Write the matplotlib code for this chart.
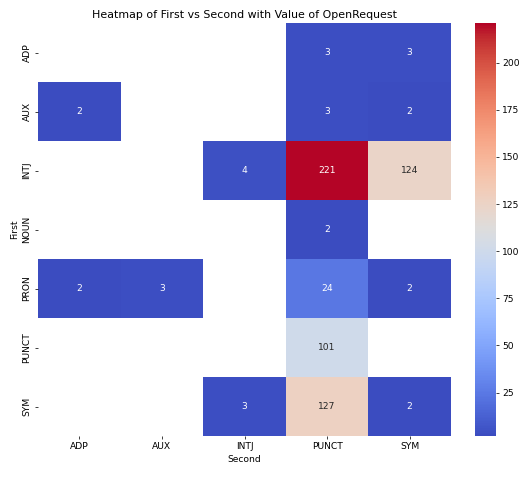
import numpy as np
import pandas as pd
import matplotlib
matplotlib.use("Agg")
import matplotlib.pyplot as plt
import seaborn as sns

rows = ["ADP", "AUX", "INTJ", "NOUN", "PRON", "PUNCT", "SYM"]
cols = ["ADP", "AUX", "INTJ", "PUNCT", "SYM"]
nan = np.nan
row_ADP = [nan, nan, nan, 3, 3]
row_AUX = [2, nan, nan, 3, 2]
row_INTJ = [nan, nan, 4, 221, 124]
row_NOUN = [nan, nan, nan, 2, nan]
row_PRON = [2, 3, nan, 24, 2]
row_PUNCT = [nan, nan, nan, 101, nan]
row_SYM = [nan, nan, 3, 127, 2]

df = pd.DataFrame([row_ADP, row_AUX, row_INTJ, row_NOUN, row_PRON, row_PUNCT, row_SYM],
                  index=rows, columns=cols)
df.index.name = "First"
df.columns.name = "Second"

fig = plt.figure(figsize=(8, 477/66), dpi=66)
ax = fig.add_axes([38/528, 1-436/477, 413/528, 413/477])
cax = fig.add_axes([475/528, 1-436/477, 21/528, 413/477])
sns.heatmap(df, annot=True, fmt=".0f", cmap="coolwarm", ax=ax, cbar_ax=cax)
ax.set_title("Heatmap of First vs Second with Value of OpenRequest")
fig.savefig("out.png", dpi=66)
